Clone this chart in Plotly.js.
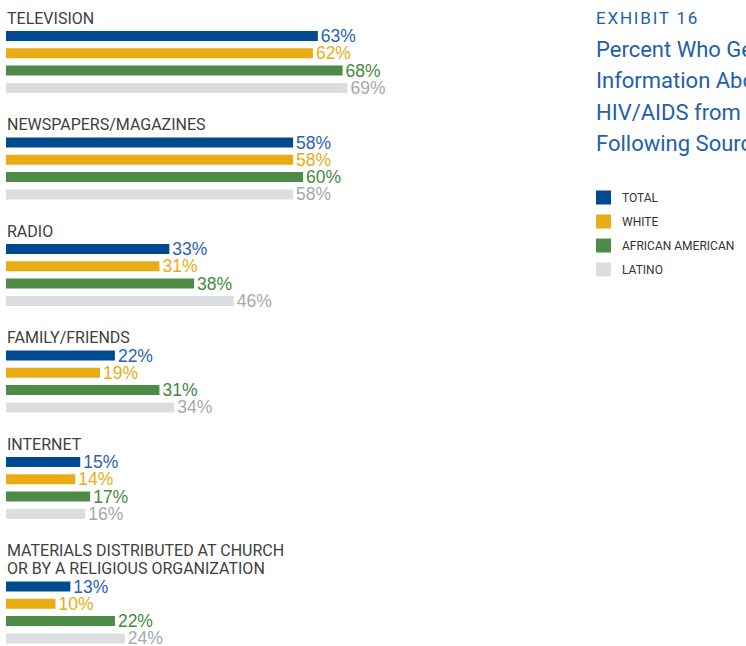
<!DOCTYPE html>
<html><head><meta charset="utf-8">
<script src="https://cdn.plot.ly/plotly-3.0.1.min.js"></script>
<style>html,body{margin:0;padding:0;background:#fff;overflow:hidden;}#chart{width:746px;height:646px;}</style>
</head><body><div id="chart"></div>
<script>
const categories = ["TELEVISION", "NEWSPAPERS/MAGAZINES", "RADIO", "FAMILY/FRIENDS", "INTERNET", "MATERIALS DISTRIBUTED AT CHURCH<br>OR BY A RELIGIOUS ORGANIZATION"];
const seriesNames = ["TOTAL", "WHITE", "AFRICAN AMERICAN", "LATINO"];
const total    = [63, 58, 33, 22, 15, 13];
const white    = [62, 58, 31, 19, 14, 10];
const african  = [68, 60, 38, 31, 17, 22];
const latino   = [69, 58, 46, 34, 16, 24];
const seriesValues = [total, white, african, latino];
const barColors  = ["#004a8f", "#e8ad14", "#4d8b47", "#dcdddf"];
const textColors = ["#2b63ad", "#e8ad14", "#3f8a3c", "#a6a8ab"];
const titleTop = "EXHIBIT 16";
const titleLines = ["Percent Who Get", "Information About", "HIV/AIDS from the", "Following Sources"];

const W = 746, H = 646, ML = 6;
const PX_PER_PCT = 4.95;
const GROUP_STEP = 106.5, FIRST_LABEL = 18, LINE_H = 18, BAR_STEP = 17.3;
const catFont = "Roboto, Liberation Sans, Arial, sans-serif";
const pctFont = "Liberation Sans, Arial, sans-serif";
const titleBlue = "#2360a9";

// layout positions computed from indices (y axis in pixel units)
const labelY = categories.map((c, g) => FIRST_LABEL + GROUP_STEP * g);
const labelLines = categories.map(c => c.split("<br>"));
function barY(g, k) { return labelY[g] + LINE_H * labelLines[g].length + BAR_STEP * k; }

const traces = seriesValues.map((vals, k) => ({
  type: "bar",
  orientation: "h",
  name: seriesNames[k],
  x: vals,
  y: vals.map((v, g) => barY(g, k)),
  width: 10,
  marker: { color: barColors[k] },
  text: vals.map(v => v + "%"),
  textposition: "outside",
  constraintext: "none",
  cliponaxis: false,
  textfont: { family: pctFont, size: 17.5, color: textColors[k] },
  hoverinfo: "skip",
  showlegend: false
}));

const px = p => (p - ML) / (W - ML);

const annotations = [];
labelLines.forEach((lines, g) => lines.forEach((line, i) => annotations.push({
  xref: "x", yref: "y",
  x: 0, y: labelY[g] + LINE_H * i,
  xanchor: "left", yanchor: "middle",
  text: line, showarrow: false, align: "left",
  borderpad: 0,
  font: { family: catFont, size: 16, color: "#404040" }
})));

annotations.push({
  xref: "paper", yref: "y", x: px(595), y: 18, xanchor: "left", yanchor: "middle",
  text: titleTop, showarrow: false, borderpad: 0,
  font: { family: catFont, size: 17, color: titleBlue }
});
titleLines.forEach((t, i) => annotations.push({
  xref: "paper", yref: "y", x: px(595), y: 49 + 31.6 * i, xanchor: "left", yanchor: "middle",
  text: t, showarrow: false, borderpad: 0,
  font: { family: catFont, size: 22, color: titleBlue }
}));

// manual legend
const shapes = [];
seriesNames.forEach((n, k) => {
  const cy = 197.5 + 24 * k;
  shapes.push({
    type: "rect", xref: "paper", yref: "y",
    x0: px(596), x1: px(611), y0: cy - 7, y1: cy + 7,
    fillcolor: barColors[k], line: { width: 0 }
  });
  annotations.push({
    xref: "paper", yref: "y", x: px(621), y: cy, xanchor: "left", yanchor: "middle",
    text: n, showarrow: false, borderpad: 0,
    font: { family: catFont, size: 12, color: "#333" }
  });
});

const layout = {
  width: W, height: H,
  margin: { l: ML, r: 0, t: 0, b: 0, pad: 0 },
  paper_bgcolor: "#fff", plot_bgcolor: "#fff",
  barmode: "overlay",
  xaxis: { range: [0, (W - ML) / PX_PER_PCT], visible: false, fixedrange: true },
  yaxis: { range: [H, 0], visible: false, fixedrange: true },
  showlegend: false,
  shapes: shapes,
  annotations: annotations
};

Plotly.newPlot("chart", traces, layout, { staticPlot: true, displayModeBar: false }).then(gd => {
  gd.querySelectorAll(".annotation-text").forEach(el => {
    if (el.textContent === titleTop) {
      const b0 = el.getBBox();
      el.style.letterSpacing = "1.8px";
      const b1 = el.getBBox();
      const x = parseFloat(el.getAttribute("x") || "0");
      el.setAttribute("x", x + (b0.x - b1.x));
    }
  });
});
</script></body></html>
